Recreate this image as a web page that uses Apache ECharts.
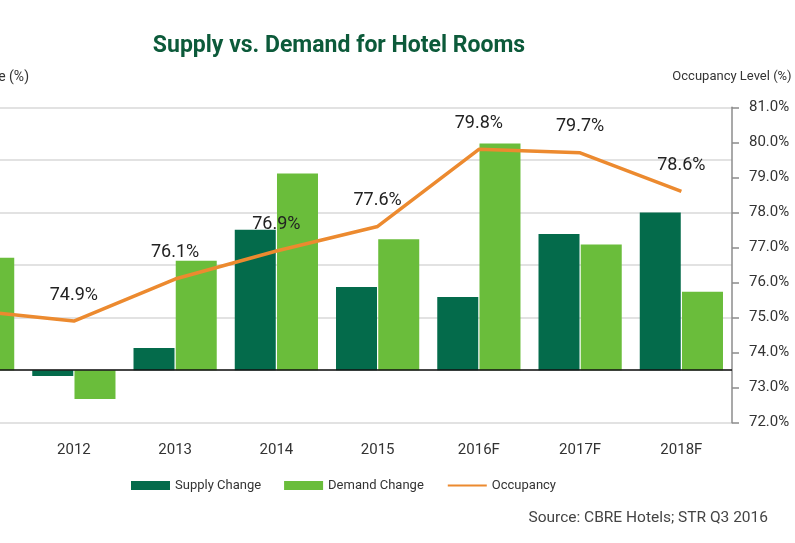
<!DOCTYPE html>
<html>
<head>
<meta charset="utf-8">
<script src="https://cdn.jsdelivr.net/npm/echarts@6/dist/echarts.min.js"></script>
<style>
html,body{margin:0;padding:0;width:795px;height:543px;overflow:hidden;background:#fff;}
#chart{position:absolute;left:-130px;top:0;width:938px;height:543px;}
</style>
</head>
<body>
<div id="chart"></div>
<script>
var FONT = "Roboto, 'Noto Sans', sans-serif";
var categories = ['2011', '2012', '2013', '2014', '2015', '2016F', '2017F', '2018F'];
var supplyChange = [0.5, -0.11, 0.42, 2.67, 1.58, 1.39, 2.59, 3.0];
var demandChange = [2.14, -0.55, 2.08, 3.74, 2.49, 4.31, 2.39, 1.49];
var occupancy = [75.2, 74.9, 76.1, 76.9, 77.6, 79.8, 79.7, 78.6];
var leftTicks = {min: -1, max: 5, interval: 1};
var rightTicks = {min: 72, max: 81, interval: 1};

var chart = echarts.init(document.getElementById('chart'), null, {renderer: 'canvas'});
chart.setOption({
  animation: false,
  textStyle: {fontFamily: FONT},
  title: {
    text: 'Supply vs. Demand for Hotel Rooms',
    left: 'center',
    top: 30,
    textStyle: {fontFamily: FONT, fontSize: 23, fontWeight: 'bold', color: '#0c5a3a'}
  },
  legend: {
    left: 256,
    top: 474,
    itemWidth: 39,
    itemHeight: 9,
    itemGap: 23,
    textStyle: {fontFamily: FONT, fontSize: 13, color: '#333'},
    data: [
      {name: 'Supply Change', icon: 'rect'},
      {name: 'Demand Change', icon: 'rect'},
      {name: 'Occupancy', itemStyle: {opacity: 0}}
    ]
  },
  grid: {left: 52, right: 76, top: 107.3, bottom: 120.3},
  xAxis: {
    type: 'category',
    data: categories,
    axisLine: {show: false, onZero: false},
    axisTick: {show: false},
    axisLabel: {fontFamily: FONT, fontSize: 15, color: '#333', margin: 20}
  },
  yAxis: [
    {
      type: 'value',
      min: leftTicks.min, max: leftTicks.max, interval: leftTicks.interval,
      axisLine: {show: false},
      axisTick: {show: false},
      axisLabel: {fontFamily: FONT, fontSize: 15, color: '#333', formatter: '{value}%'},
      splitLine: {lineStyle: {color: '#d9d9d9', width: 1.5}}
    },
    {
      type: 'value',
      position: 'right',
      name: 'Occupancy Level (%)',
      nameLocation: 'end',
      nameGap: 24,
      nameTextStyle: {fontFamily: FONT, fontSize: 13, color: '#333'},
      min: rightTicks.min, max: rightTicks.max, interval: rightTicks.interval,
      axisLine: {show: true, lineStyle: {color: '#8c8c8c', width: 1.5}},
      axisTick: {show: true, length: 7, lineStyle: {color: '#8c8c8c', width: 1.5}},
      axisLabel: {fontFamily: FONT, fontSize: 15, color: '#333', margin: 17,
        formatter: function (v) { return v.toFixed(1) + '%'; }},
      splitLine: {show: false}
    }
  ],
  graphic: [
    {
      type: 'text',
      style: {text: 'Supply & Demand Change (%)', x: 159, y: 77, align: 'right', verticalAlign: 'middle',
        font: '14px ' + FONT, fill: '#333'}
    },
    {
      type: 'text',
      style: {text: 'Source: CBRE Hotels; STR Q3 2016', x: 898, y: 518, align: 'right', verticalAlign: 'middle',
        font: '15.5px ' + FONT, fill: '#444'}
    }
  ],
  series: [
    {
      name: 'Supply Change',
      type: 'bar',
      data: supplyChange,
      barWidth: 41,
      barGap: '3%',
      itemStyle: {color: '#046b4b'},
      markLine: {
        silent: true,
        symbol: 'none',
        label: {show: false},
        lineStyle: {color: '#111', width: 1.5, type: 'solid'},
        data: [{yAxis: 0}],
        z: 5
      }
    },
    {
      name: 'Demand Change',
      type: 'bar',
      data: demandChange,
      barWidth: 41,
      barGap: '3%',
      itemStyle: {color: '#6abd3b'}
    },
    {
      name: 'Occupancy',
      type: 'line',
      yAxisIndex: 1,
      data: occupancy,
      symbol: 'circle',
      symbolSize: 0.1,
      z: 10,
      lineStyle: {color: '#ec8a2f', width: 3.5},
      itemStyle: {color: '#ec8a2f'},
      label: {
        show: true, position: 'top', distance: 17,
        fontFamily: FONT, fontSize: 18, color: '#222',
        formatter: function (p) { return p.value.toFixed(1) + '%'; }
      }
    }
  ]
});
</script>
</body>
</html>
